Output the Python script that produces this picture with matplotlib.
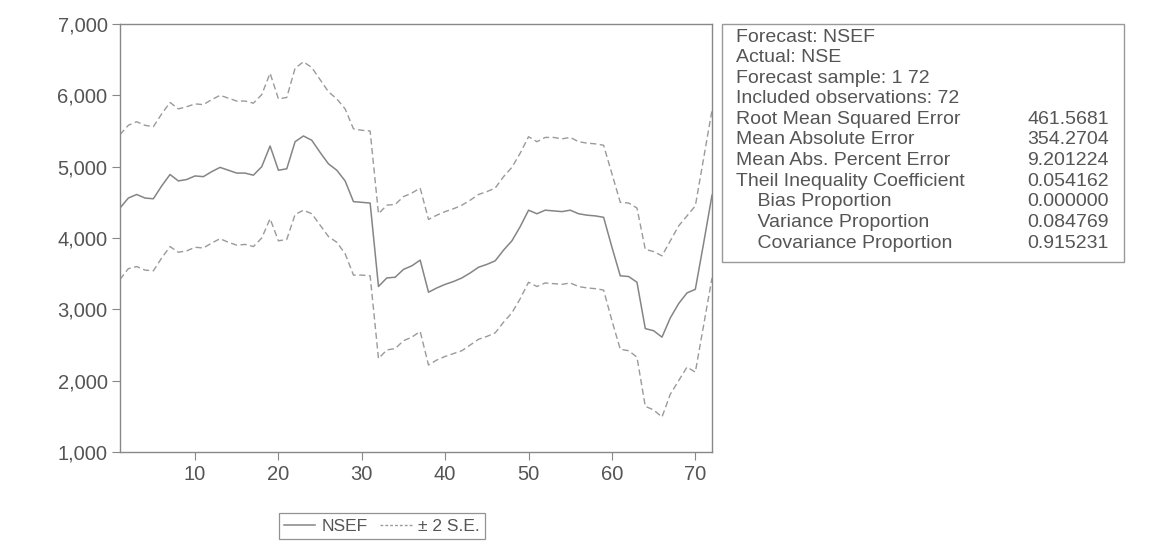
import numpy as np
import matplotlib
matplotlib.use('Agg')
import matplotlib.pyplot as plt
from matplotlib.ticker import FuncFormatter
from matplotlib.lines import Line2D

# observation index 1..72
obs = np.arange(1, 73)

# forecast NSEF
nsef = [4420, 4560, 4610, 4560, 4550, 4730, 4890, 4800, 4820, 4870,
        4860, 4930, 4990, 4950, 4910, 4910, 4880, 5000, 5290, 4950,
        4970, 5350, 5430, 5370, 5200, 5040, 4950, 4800, 4510, 4500,
        4490, 3320, 3440, 3450, 3560, 3610, 3690, 3240, 3300, 3350,
        3390, 3440, 3510, 3590, 3630, 3680, 3830, 3960, 4160, 4390,
        4340, 4390, 4380, 4370, 4390, 4340, 4320, 4310, 4290, 3870,
        3470, 3460, 3380, 2730, 2700, 2610, 2880, 3080, 3230, 3280,
        3930, 4600]

# +2 S.E. band
upper = [5450, 5580, 5630, 5580, 5560, 5740, 5900, 5810, 5840, 5880,
         5870, 5940, 6000, 5960, 5920, 5920, 5890, 6010, 6310, 5950,
         5970, 6380, 6470, 6390, 6220, 6050, 5950, 5810, 5530, 5510,
         5500, 4340, 4460, 4470, 4580, 4630, 4700, 4260, 4320, 4370,
         4410, 4460, 4530, 4610, 4650, 4700, 4860, 4990, 5190, 5420,
         5350, 5410, 5410, 5390, 5410, 5350, 5330, 5320, 5300, 4900,
         4500, 4490, 4420, 3840, 3810, 3750, 3960, 4170, 4310, 4450,
         5120, 5790]

# -2 S.E. band
lower = [3420, 3570, 3600, 3550, 3540, 3720, 3880, 3800, 3820, 3870,
         3860, 3930, 3990, 3940, 3900, 3910, 3880, 4000, 4270, 3960,
         3980, 4330, 4390, 4340, 4180, 4020, 3940, 3780, 3480, 3480,
         3470, 2310, 2430, 2450, 2560, 2610, 2690, 2220, 2290, 2340,
         2380, 2420, 2500, 2580, 2620, 2670, 2820, 2950, 3150, 3380,
         3320, 3370, 3360, 3350, 3370, 3320, 3300, 3290, 3270, 2840,
         2440, 2420, 2330, 1640, 1590, 1490, 1810, 2000, 2190, 2120,
         2780, 3440]

stat_names = ['Forecast: NSEF', 'Actual: NSE', 'Forecast sample: 1 72',
              'Included observations: 72', 'Root Mean Squared Error',
              'Mean Absolute Error', 'Mean Abs. Percent Error',
              'Theil Inequality Coefficient', '    Bias Proportion',
              '    Variance Proportion', '    Covariance Proportion']
stat_values = ['', '', '', '', '461.5681', '354.2704', '9.201224',
               '0.054162', '0.000000', '0.084769', '0.915231']

plt.rcParams['font.family'] = ['Liberation Sans', 'DejaVu Sans']
txt_col = '#555555'
line_col = '#858585'
band_col = '#9a9a9a'
fs = 14

fig = plt.figure(figsize=(11.63, 5.46), dpi=100)
W, H = 1163, 546
ax = fig.add_axes([120 / W, 1 - 452 / H, (712 - 120) / W, (452 - 24) / H])

ax.plot(obs, nsef, color=line_col, lw=1.1)
ax.plot(obs, upper, color=band_col, lw=1.0, ls=(0, (4.5, 2.5)))
ax.plot(obs, lower, color=band_col, lw=1.0, ls=(0, (4.5, 2.5)))

ax.set_xlim(1, 72)
ax.set_ylim(1000, 7000)
ax.set_xticks([10, 20, 30, 40, 50, 60, 70])
ax.set_yticks(np.arange(1000, 7001, 1000))
ax.yaxis.set_major_formatter(FuncFormatter(lambda v, p: f'{int(v):,}'))
ax.tick_params(direction='out', length=6, width=0.8, colors='#888888',
               labelcolor=txt_col, labelsize=14.5, pad=3)
for s in ax.spines.values():
    s.set_color('#888888')
    s.set_linewidth(1.0)

handles = [Line2D([], [], color=line_col, lw=1.1),
           Line2D([], [], color=band_col, lw=1.0, ls=(0, (2, 1.5)))]
leg = fig.legend(handles, ['NSEF', '± 2 S.E.'], loc='center',
                 bbox_to_anchor=(382 / W, 1 - 526 / H), ncol=2,
                 frameon=True, fancybox=False, fontsize=12.5,
                 handlelength=1.8, handletextpad=0.4, columnspacing=0.7,
                 borderpad=0.3, borderaxespad=0, labelcolor=txt_col)
leg.get_frame().set_edgecolor('#777777')
leg.get_frame().set_linewidth(0.9)

# stats box
bx0, by0, bx1, by1 = 722, 24, 1124, 262
fig.patches.append(plt.Rectangle((bx0 / W, 1 - by1 / H), (bx1 - bx0) / W,
                                 (by1 - by0) / H, transform=fig.transFigure,
                                 fill=False, edgecolor='#999999', lw=1.0))
row_h = 20.6
for i, (name, val) in enumerate(zip(stat_names, stat_values)):
    yy = 1 - (37 + i * row_h) / H
    fig.text(736 / W, yy, name, fontsize=fs, color=txt_col, va='center')
    if val:
        fig.text(1027 / W, yy, val, fontsize=fs, color=txt_col, va='center')

fig.savefig('out.png', dpi=100)
